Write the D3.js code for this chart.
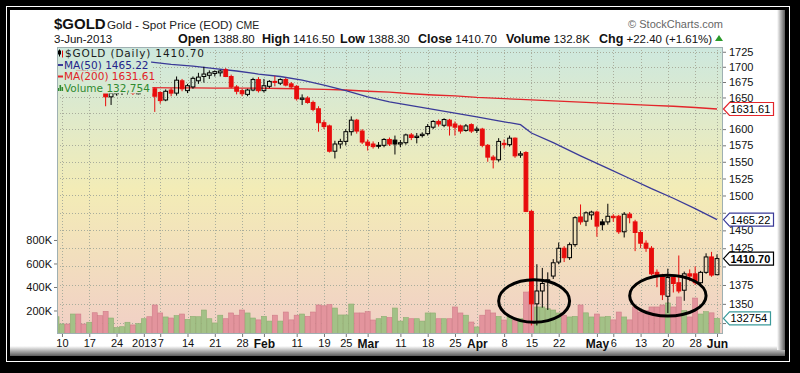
<!DOCTYPE html>
<html>
<head>
<meta charset="utf-8">
<script src="https://cdn.jsdelivr.net/npm/d3@7"></script>
<style>
    html, body { margin: 0; padding: 0; background: #000; }
    svg { display: block; }
    text { font-family: "Liberation Sans", Arial, sans-serif; }
</style>
</head>
<body>
<svg id="chart" width="800" height="373"></svg>
<script>

/*---------------------------------- data ----------------------------------*/

//trading days on the chart
var dates = [
    "2012-12-07", "2012-12-10", "2012-12-11", "2012-12-12", "2012-12-13", "2012-12-14",
    "2012-12-17", "2012-12-18", "2012-12-19", "2012-12-20", "2012-12-21",
    "2012-12-24", "2012-12-26", "2012-12-27", "2012-12-28", "2012-12-31",
    "2013-01-02", "2013-01-03", "2013-01-04",
    "2013-01-07", "2013-01-08", "2013-01-09", "2013-01-10", "2013-01-11",
    "2013-01-14", "2013-01-15", "2013-01-16", "2013-01-17", "2013-01-18",
    "2013-01-21", "2013-01-22", "2013-01-23", "2013-01-24", "2013-01-25",
    "2013-01-28", "2013-01-29", "2013-01-30", "2013-01-31", "2013-02-01",
    "2013-02-04", "2013-02-05", "2013-02-06", "2013-02-07", "2013-02-08",
    "2013-02-11", "2013-02-12", "2013-02-13", "2013-02-14", "2013-02-15",
    "2013-02-19", "2013-02-20", "2013-02-21", "2013-02-22",
    "2013-02-25", "2013-02-26", "2013-02-27", "2013-02-28", "2013-03-01",
    "2013-03-04", "2013-03-05", "2013-03-06", "2013-03-07", "2013-03-08",
    "2013-03-11", "2013-03-12", "2013-03-13", "2013-03-14", "2013-03-15",
    "2013-03-18", "2013-03-19", "2013-03-20", "2013-03-21", "2013-03-22",
    "2013-03-25", "2013-03-26", "2013-03-27", "2013-03-28",
    "2013-04-01", "2013-04-02", "2013-04-03", "2013-04-04", "2013-04-05",
    "2013-04-08", "2013-04-09", "2013-04-10", "2013-04-11", "2013-04-12",
    "2013-04-15", "2013-04-16", "2013-04-17", "2013-04-18", "2013-04-19",
    "2013-04-22", "2013-04-23", "2013-04-24", "2013-04-25", "2013-04-26",
    "2013-04-29", "2013-04-30", "2013-05-01", "2013-05-02", "2013-05-03",
    "2013-05-06", "2013-05-07", "2013-05-08", "2013-05-09", "2013-05-10",
    "2013-05-13", "2013-05-14", "2013-05-15", "2013-05-16", "2013-05-17",
    "2013-05-20", "2013-05-21", "2013-05-22", "2013-05-23", "2013-05-24",
    "2013-05-28", "2013-05-29", "2013-05-30", "2013-05-31", "2013-06-03"
];

var open = [
    1700, 1703, 1710, 1708, 1716, 1694, 1692, 1697, 1668, 1658, 1651,
    1656, 1658, 1661, 1660, 1656, 1675, 1680, 1664,
    1658, 1646, 1662, 1657, 1677, 1661, 1667, 1677, 1684, 1686,
    1689, 1690, 1695, 1684, 1667, 1661, 1655, 1662, 1679, 1661,
    1668, 1676, 1673, 1679, 1672, 1668, 1647, 1649, 1642, 1632,
    1610, 1605, 1566, 1577, 1581, 1596, 1614, 1597, 1580,
    1577, 1574, 1575, 1584, 1583, 1577, 1579, 1591, 1587, 1590,
    1593, 1603, 1612, 1606, 1614, 1608, 1605, 1598, 1607,
    1598, 1600, 1575, 1557, 1553, 1578, 1576, 1586, 1560, 1564,
    1477, 1350, 1367, 1380, 1387, 1406, 1425, 1412, 1430, 1469,
    1463, 1472, 1476, 1462, 1462, 1470, 1470, 1448, 1473, 1462,
    1447, 1432, 1425, 1392, 1388, 1360, 1385, 1378, 1368, 1390,
    1390, 1378, 1392, 1413, 1388.8
];
var high = [
    1710, 1714, 1720, 1722, 1719, 1700, 1700, 1699, 1675, 1662, 1662,
    1662, 1665, 1667, 1663, 1662, 1693, 1686, 1666,
    1660, 1663, 1665, 1684, 1680, 1672, 1684, 1690, 1700, 1694,
    1694, 1695, 1698, 1687, 1670, 1664, 1664, 1682, 1683, 1680,
    1678, 1685, 1681, 1682, 1675, 1670, 1655, 1652, 1645, 1636,
    1614, 1607, 1582, 1585, 1600, 1620, 1616, 1600, 1584,
    1581, 1580, 1586, 1587, 1590, 1583, 1593, 1594, 1594, 1595,
    1608, 1614, 1615, 1617, 1616, 1612, 1607, 1608, 1609,
    1604, 1602, 1577, 1560, 1586, 1584, 1590, 1587, 1566, 1566,
    1479, 1403, 1398, 1392, 1410, 1433, 1428, 1433, 1470, 1487,
    1477, 1478, 1478, 1466, 1488, 1473, 1472, 1476, 1476, 1465,
    1450, 1436, 1428, 1396, 1390, 1397, 1388, 1415, 1393, 1396,
    1400, 1394, 1418, 1420, 1416.5
];
var low = [
    1695, 1700, 1704, 1706, 1692, 1688, 1688, 1665, 1660, 1636, 1638,
    1653, 1654, 1655, 1654, 1655, 1672, 1662, 1627,
    1640, 1644, 1652, 1653, 1660, 1657, 1664, 1672, 1674, 1680,
    1684, 1684, 1683, 1665, 1655, 1652, 1652, 1660, 1658, 1658,
    1665, 1668, 1670, 1668, 1664, 1645, 1638, 1640, 1628, 1596,
    1600, 1564, 1555, 1570, 1575, 1590, 1593, 1577, 1567,
    1570, 1570, 1572, 1574, 1561, 1572, 1576, 1583, 1578, 1587,
    1590, 1600, 1604, 1603, 1590, 1590, 1593, 1596, 1594,
    1594, 1572, 1550, 1540, 1550, 1570, 1573, 1556, 1556, 1476,
    1322, 1322, 1345, 1342, 1383, 1403, 1406, 1409, 1427, 1458,
    1456, 1465, 1441, 1450, 1458, 1462, 1445, 1440, 1460, 1421,
    1425, 1420, 1388, 1372, 1355, 1338, 1365, 1364, 1354, 1380,
    1375, 1376, 1390, 1386, 1388.3
];
var close = [
    1703, 1710, 1708, 1716, 1694, 1692, 1697, 1668, 1665, 1651, 1657,
    1659, 1662, 1663, 1657, 1660, 1688, 1664, 1652,
    1645, 1660, 1657, 1678, 1664, 1669, 1681, 1683, 1688, 1690,
    1692, 1693, 1684, 1667, 1660, 1656, 1662, 1679, 1661, 1669,
    1676, 1675, 1679, 1670, 1667, 1648, 1649, 1642, 1631, 1610,
    1604, 1566, 1577, 1581, 1596, 1614, 1597, 1580, 1575,
    1573, 1575, 1584, 1577, 1577, 1579, 1591, 1587, 1589, 1592,
    1604, 1612, 1608, 1615, 1605, 1603, 1597, 1605, 1597,
    1600, 1575, 1557, 1553, 1581, 1576, 1586, 1559, 1562, 1477,
    1350, 1367, 1377, 1382, 1405, 1425, 1412, 1430, 1468, 1462,
    1475, 1476, 1456, 1458, 1470, 1468, 1448, 1473, 1468, 1447,
    1432, 1425, 1390, 1388, 1362, 1385, 1377, 1367, 1390, 1387,
    1378, 1392, 1413, 1388.3, 1410.7
];
//volume in thousands
var volumeK = [
    147, 85, 85, 170, 170, 85, 100, 181, 156, 193, 136,
    54, 62, 100, 77, 88, 130, 147, 247,
    179, 145, 136, 156, 170, 124, 150, 147, 204, 130,
    94, 160, 130, 179, 160, 204, 179, 136, 120, 150,
    110, 160, 110, 187, 120, 160, 170, 150, 187, 247,
    240, 250, 221, 162, 162, 255, 179, 179, 190,
    119, 130, 150, 140, 221, 110, 140, 130, 130, 110,
    179, 179, 130, 130, 130, 230, 179, 160, 102,
    60, 160, 204, 179, 150, 119, 150, 119, 130, 357,
    360, 230, 230, 215, 204, 179, 160, 145, 150, 247,
    180, 145, 170, 145, 150, 120, 187, 145, 120, 230,
    187, 200, 230, 230, 247, 264, 230, 315, 200, 145,
    306, 170, 190, 180, 132.754
];

//moving averages (sampled)
var maDates = [
    "2012-12-10", "2012-12-14", "2012-12-20", "2012-12-27", "2013-01-03", "2013-01-09",
    "2013-01-15", "2013-01-21", "2013-01-25", "2013-01-31", "2013-02-06", "2013-02-12",
    "2013-02-19", "2013-02-25", "2013-03-01", "2013-03-07", "2013-03-13", "2013-03-19",
    "2013-03-25", "2013-04-01", "2013-04-05", "2013-04-11", "2013-04-15", "2013-04-19",
    "2013-04-26", "2013-05-03", "2013-05-09", "2013-05-15", "2013-05-21", "2013-05-28",
    "2013-06-03"
];
var ma50 = [
    1722, 1720, 1716, 1712, 1708, 1704, 1701, 1697, 1693, 1688, 1684, 1678,
    1670, 1661, 1651, 1643, 1637, 1631, 1625, 1619, 1613, 1607, 1594, 1579,
    1559, 1540, 1525, 1510, 1496, 1481, 1465.22
];
var ma200 = [
    1668, 1667.5, 1667, 1666.5, 1666, 1665.5, 1665.5, 1665, 1665, 1665, 1664.5, 1664,
    1663, 1662, 1660, 1658.5, 1656, 1654, 1652.5, 1650, 1648.5, 1647, 1646, 1644.5,
    1642.5, 1640.5, 1639, 1637.5, 1636, 1634, 1631.61
];

//axis ticks
var tickDates = [
    "2012-12-10", "2012-12-17", "2012-12-24", "2013-01-02", "2013-01-07", "2013-01-14",
    "2013-01-21", "2013-01-28", "2013-02-01", "2013-02-11", "2013-02-19", "2013-02-25",
    "2013-03-01", "2013-03-11", "2013-03-18", "2013-03-25", "2013-04-01", "2013-04-08",
    "2013-04-15", "2013-04-22", "2013-05-01", "2013-05-06", "2013-05-13", "2013-05-20",
    "2013-05-28", "2013-06-03"
];
var tickLabels = [
    "10", "17", "24", "2013", "7", "14", "21", "28", "Feb", "11", "19", "25",
    "Mar", "11", "18", "25", "Apr", "8", "15", "22", "May", "6", "13", "20", "28", "Jun"
];
var priceTicks = [1325, 1350, 1375, 1400, 1425, 1450, 1475, 1500, 1525, 1550, 1575,
    1600, 1625, 1650, 1675, 1700, 1725];
var volumeTicks = [200000, 400000, 600000, 800000];

//hand drawn circles
var circles = [
    { from: "2013-04-05", to: "2013-04-24", hi: 1382, lo: 1326 },
    { from: "2013-05-09", to: "2013-05-30", hi: 1388, lo: 1334 }
];

/*---------------------------------- chart ----------------------------------*/

var W = 800, H = 373;
var plot = { left: 57, right: 723, top: 47, bottom: 334 };
var fmt2 = d3.format('.2f');
var last = dates.length - 1;

var svg = d3.select('#chart');
var defs = svg.append('defs');

//frame
svg.append('rect').attr('width', W).attr('height', H).attr('fill', '#000');
svg.append('rect').attr('x', 6.5).attr('y', 6.5).attr('width', 783).attr('height', 355)
    .attr('fill', 'none').attr('stroke', '#fff');
svg.append('rect').attr('x', 10).attr('y', 10).attr('width', 775).attr('height', 346).attr('fill', '#fff');

var shB = defs.append('linearGradient').attr('id', 'shB').attr('x1', 0).attr('y1', 0).attr('x2', 0).attr('y2', 1);
shB.append('stop').attr('offset', 0).attr('stop-color', '#fff');
shB.append('stop').attr('offset', 1).attr('stop-color', '#5c5c5c');
var shR = defs.append('linearGradient').attr('id', 'shR').attr('x1', 0).attr('y1', 0).attr('x2', 1).attr('y2', 0);
shR.append('stop').attr('offset', 0).attr('stop-color', '#fff');
shR.append('stop').attr('offset', 1).attr('stop-color', '#5c5c5c');
svg.append('rect').attr('x', 10).attr('y', 346).attr('width', 775).attr('height', 10).attr('fill', 'url(#shB)');
svg.append('rect').attr('x', 777).attr('y', 10).attr('width', 8).attr('height', 340).attr('fill', 'url(#shR)');

//plot background
var bg = defs.append('linearGradient').attr('id', 'bg').attr('gradientUnits', 'userSpaceOnUse')
    .attr('x1', 0).attr('y1', plot.top).attr('x2', 0).attr('y2', plot.bottom);
bg.append('stop').attr('offset', 0).attr('stop-color', '#cde8de');
bg.append('stop').attr('offset', 0.5).attr('stop-color', '#f3ecb6');
bg.append('stop').attr('offset', 1).attr('stop-color', '#f1cfc6');

defs.append('clipPath').attr('id', 'clip').append('rect')
    .attr('x', plot.left).attr('y', plot.top)
    .attr('width', plot.right - plot.left).attr('height', plot.bottom - plot.top);

svg.append('rect').attr('x', plot.left).attr('y', plot.top)
    .attr('width', plot.right - plot.left).attr('height', plot.bottom - plot.top)
    .attr('fill', 'url(#bg)');

//scales
var x = d3.scalePoint().domain(dates).range([56.5, 717]);
var step = x.step();
var y = d3.scaleLog().domain([1311, 1733]).range([plot.bottom, plot.top]);
var yVol = d3.scaleLinear().domain([0, 2442000]).range([plot.bottom, plot.top]);

//grid
var grid = svg.append('g').attr('stroke', '#a9ad9c').attr('stroke-dasharray', '1,2');
grid.selectAll('.hg').data(priceTicks).enter().append('line')
    .attr('x1', plot.left).attr('x2', plot.right)
    .attr('y1', function (d) { return Math.round(y(d)) + 0.5; })
    .attr('y2', function (d) { return Math.round(y(d)) + 0.5; });
grid.selectAll('.vg').data(tickDates).enter().append('line')
    .attr('y1', plot.top).attr('y2', plot.bottom)
    .attr('x1', function (d) { return Math.round(x(d)) + 0.5; })
    .attr('x2', function (d) { return Math.round(x(d)) + 0.5; });

var chart = svg.append('g').attr('clip-path', 'url(#clip)');

//up or down versus previous close
function isUp(i) { return i == 0 || close[i] >= close[i - 1]; }

//volume bars
chart.selectAll('.vol').data(volumeK).enter().append('rect')
    .attr('x', function (d, i) { return x(dates[i]) - step * 0.46; })
    .attr('width', step * 0.92)
    .attr('y', function (d) { return yVol(d * 1000); })
    .attr('height', function (d) { return plot.bottom - yVol(d * 1000); })
    .attr('fill', function (d, i) { return isUp(i) ? '#a3c187' : '#e3949d'; })
    .attr('stroke', function (d, i) { return isUp(i) ? '#8dad70' : '#cf7c88'; })
    .attr('stroke-width', 0.6);

//moving averages
var maLine = d3.line()
    .x(function (d) { return x(d[0]); })
    .y(function (d) { return y(d[1]); });
chart.append('path').datum(d3.zip(maDates, ma200)).attr('d', maLine)
    .attr('fill', 'none').attr('stroke', '#e3262b').attr('stroke-width', 1.3);
chart.append('path').datum(d3.zip(maDates, ma50)).attr('d', maLine)
    .attr('fill', 'none').attr('stroke', '#3a3a98').attr('stroke-width', 1.3);

//candles
var bw = 3.8;
var candles = chart.selectAll('.candle').data(dates).enter().append('g')
    .attr('stroke', function (d, i) { return isUp(i) ? '#000' : '#e80c0c'; });
candles.append('line')
    .attr('x1', function (d) { return x(d); }).attr('x2', function (d) { return x(d); })
    .attr('y1', function (d, i) { return y(high[i]); })
    .attr('y2', function (d, i) { return y(Math.max(open[i], close[i])); });
candles.append('line')
    .attr('x1', function (d) { return x(d); }).attr('x2', function (d) { return x(d); })
    .attr('y1', function (d, i) { return y(Math.min(open[i], close[i])); })
    .attr('y2', function (d, i) { return y(low[i]); });
candles.append('rect')
    .attr('x', function (d) { return x(d) - bw / 2; })
    .attr('width', bw)
    .attr('y', function (d, i) { return y(Math.max(open[i], close[i])); })
    .attr('height', function (d, i) { return Math.max(1, y(Math.min(open[i], close[i])) - y(Math.max(open[i], close[i]))); })
    .attr('fill', function (d, i) {
        if (close[i] > open[i]) return 'none'; //hollow
        return isUp(i) ? '#000' : '#e80c0c';
    })
    .attr('stroke-width', 1);

/*---------------------------------- legend ----------------------------------*/

var legendRows = [
    { text: '$GOLD (Daily) ' + fmt2(close[last]), color: '#1a1a1a', icon: 'candle', spacing: 0.85 },
    { text: 'MA(50) ' + fmt2(ma50[ma50.length - 1]), color: '#24248a', icon: '#3a3a98', spacing: 0 },
    { text: 'MA(200) ' + fmt2(ma200[ma200.length - 1]), color: '#e02226', icon: '#e3262b', spacing: 0 },
    { text: 'Volume ' + d3.format(',')(Math.round(volumeK[last] * 1000)), color: '#2f8a30', icon: 'vol', spacing: 0 }
];
var legend = svg.append('g');
legendRows.forEach(function (row, i) {
    var top = plot.top + 0.5 + i * 11.5;
    var cy = top + 6;
    var box = legend.append('rect').attr('x', plot.left + 0.5).attr('y', top).attr('height', 11.5)
        .attr('fill', 'url(#bg)');
    var tx = i == 0 ? 65 : 64;
    var t = legend.append('text').attr('x', tx).attr('y', cy).attr('dy', '0.36em')
        .style('font-family', '"DejaVu Sans", Verdana, sans-serif')
        .style('font-size', '10.5px').style('letter-spacing', row.spacing + 'px')
        .attr('fill', row.color).text(row.text);
    box.attr('width', tx + t.node().getComputedTextLength() + 2 - plot.left);
    if (row.icon == 'candle') {
        legend.append('line').attr('x1', 59.5).attr('x2', 59.5).attr('y1', cy - 4).attr('y2', cy + 3).attr('stroke', '#000');
        legend.append('rect').attr('x', 58).attr('y', cy - 3).attr('width', 3).attr('height', 4).attr('fill', '#000');
        legend.append('line').attr('x1', 62.5).attr('x2', 62.5).attr('y1', cy - 3).attr('y2', cy + 4).attr('stroke', '#e80c0c');
    }
    else if (row.icon == 'vol') {
        [3, 6, 4].forEach(function (h, k) {
            legend.append('rect').attr('x', 57.5 + k * 2).attr('y', cy + 3 - h).attr('width', 1.6).attr('height', h).attr('fill', '#2f8a30');
        });
    }
    else {
        legend.append('line').attr('x1', 57).attr('x2', 63).attr('y1', cy).attr('y2', cy)
            .attr('stroke', row.icon).attr('stroke-width', 2);
    }
});

//annotations
svg.selectAll('.ring').data(circles).enter().append('ellipse')
    .attr('cx', function (d) { return (x(d.from) + x(d.to)) / 2; })
    .attr('cy', function (d) { return (y(d.hi) + y(d.lo)) / 2; })
    .attr('rx', function (d) { return (x(d.to) - x(d.from)) / 2; })
    .attr('ry', function (d) { return (y(d.lo) - y(d.hi)) / 2; })
    .attr('fill', 'none').attr('stroke', '#000').attr('stroke-width', 3);

//plot border
svg.append('rect').attr('x', plot.left + 0.5).attr('y', plot.top + 0.5)
    .attr('width', plot.right - plot.left - 1).attr('height', plot.bottom - plot.top - 1)
    .attr('fill', 'none').attr('stroke', '#9fb0b2');

/*---------------------------------- axes ----------------------------------*/

function styleAxis(g, size) {
    g.select('.domain').remove();
    g.selectAll('line').attr('stroke', '#777');
    g.selectAll('text').attr('fill', '#111').style('font-family', '"Liberation Sans", Arial, sans-serif')
        .style('font-size', size);
}

//right hand value tags (drawn over the price labels they cover)
var tags = [
    { v: y(ma200[ma200.length - 1]), stroke: '#e3262b', label: fmt2(ma200[ma200.length - 1]), bold: false },
    { v: y(ma50[ma50.length - 1]), stroke: '#3a3a98', label: fmt2(ma50[ma50.length - 1]), bold: false },
    { v: y(close[last]), stroke: '#000', label: fmt2(close[last]), bold: true },
    { v: yVol(volumeK[last] * 1000), stroke: '#3b9a9a', label: String(Math.round(volumeK[last] * 1000)), bold: false }
];

var yAxis = svg.append('g').attr('transform', 'translate(' + plot.right + ',0)')
    .call(d3.axisRight(y).tickValues(priceTicks).tickFormat(d3.format('d')).tickSize(3).tickPadding(3))
    .call(styleAxis, '11px');
//labels hidden behind a tag
yAxis.selectAll('text').filter(function (d) {
    return tags.some(function (t) { return Math.abs(y(d) - t.v) < 8; });
}).remove();

svg.append('g').attr('transform', 'translate(' + plot.left + ',0)')
    .call(d3.axisLeft(yVol).tickValues(volumeTicks).tickFormat(function (d) { return (d / 1000) + 'K'; }).tickSize(3).tickPadding(2))
    .call(styleAxis, '11px');

var xAxis = svg.append('g').attr('transform', 'translate(0,' + plot.bottom + ')')
    .call(d3.axisBottom(x).tickValues(tickDates).tickFormat(function (d, i) { return tickLabels[i]; }).tickSize(3).tickPadding(2))
    .call(styleAxis, '11px');
xAxis.selectAll('text').filter(function (d, i) { return isNaN(+tickLabels[i]); })
    .style('font-weight', 'bold').style('font-size', '12px');

//value tags on the right
function drawTag(yPos, stroke, label, bold) {
    var g = svg.append('g').attr('transform', 'translate(' + plot.right + ',' + yPos + ')');
    var t = g.append('text').attr('x', 7.5).attr('dy', '0.36em').attr('fill', '#000')
        .style('font-size', '11px').style('font-weight', bold ? 'bold' : 'normal').text(label);
    var w = Math.round(t.node().getComputedTextLength() + 10) + 0.5;
    g.insert('path', 'text')
        .attr('d', 'M0.5,0 L6.5,-6.5 L' + w + ',-6.5 L' + w + ',6.5 L6.5,6.5 Z')
        .attr('fill', '#fff').attr('stroke', stroke).attr('stroke-width', 1.2);
}
tags.forEach(function (t) { drawTag(t.v, t.stroke, t.label, t.bold); });

/*---------------------------------- header ----------------------------------*/

var chg = close[last] - close[last - 1];
var quote = [
    ['Open', fmt2(open[last]), 178],
    ['High', fmt2(high[last]), 262],
    ['Low', fmt2(low[last]), 340],
    ['Close', fmt2(close[last]), 418],
    ['Volume', d3.format('.1f')(volumeK[last]) + 'K', 506],
    ['Chg', (chg >= 0 ? '+' : '') + fmt2(chg) + ' (' + (chg >= 0 ? '+' : '') + fmt2(chg / close[last - 1] * 100) + '%)', 599]
];

svg.append('text').attr('x', 54).attr('y', 29).style('font-size', '15px').style('font-weight', 'bold')
    .attr('fill', '#111').text('$GOLD');
svg.append('text').attr('x', 107).attr('y', 29).style('font-size', '11.7px').attr('fill', '#222')
    .text('Gold - Spot Price (EOD)');
svg.append('text').attr('x', 236).attr('y', 29).style('font-size', '10.5px').attr('fill', '#222').text('CME');
svg.append('text').attr('x', 723).attr('y', 28).attr('text-anchor', 'end').style('font-size', '11px')
    .attr('fill', '#666').text('\u00a9 StockCharts.com');

svg.append('text').attr('x', 54).attr('y', 43).style('font-size', '11.5px').attr('fill', '#111')
    .text(d3.timeFormat('%-d-%b-%Y')(d3.timeParse('%Y-%m-%d')(dates[last])));

quote.forEach(function (q) {
    var t = svg.append('text').attr('x', q[2]).attr('y', 43).attr('fill', '#111');
    t.append('tspan').style('font-weight', 'bold').style('font-size', '12.5px').text(q[0]);
    t.append('tspan').style('font-size', '11.5px').text(' ' + q[1]);
});
svg.append('path').attr('d', 'M715,41 L719,35 L723,41 Z').attr('fill', '#2a9a2a');

</script>
</body>
</html>
